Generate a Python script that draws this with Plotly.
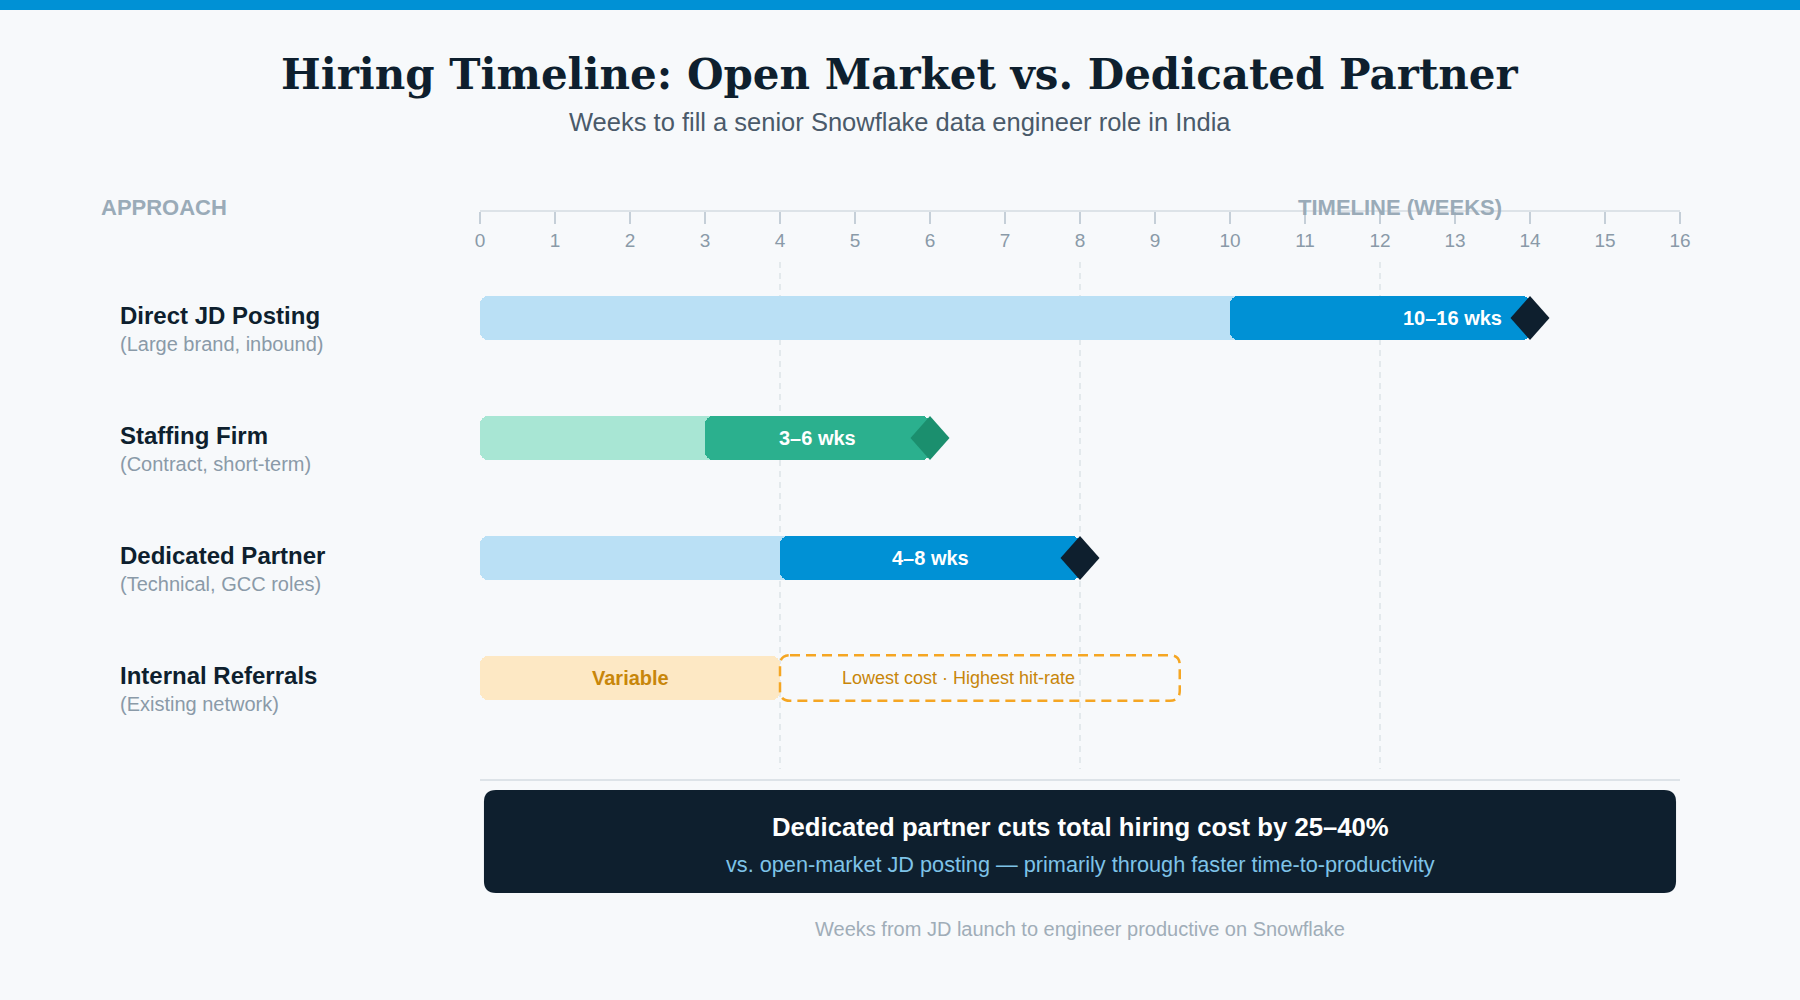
import plotly.graph_objects as go

# ---------------- data ----------------
approaches = ["Direct JD Posting", "Staffing Firm", "Dedicated Partner", "Internal Referrals"]
approach_notes = ["(Large brand, inbound)", "(Contract, short-term)", "(Technical, GCC roles)", "(Existing network)"]
base_end = [14, 6, 8, 4]            # light background bar: 0 -> base_end
range_start = [10, 3, 4, None]      # dark highlighted range
range_end = [14, 6, 8, None]
range_labels = ["10–16 wks", "3–6 wks", "4–8 wks", "Variable"]
note_start, note_end = 4, 9.33
note_text = "Lowest cost · Highest hit-rate"
guide_weeks = [4, 8, 12]
week_ticks = list(range(0, 17))

title = "Hiring Timeline: Open Market vs. Dedicated Partner"
subtitle = "Weeks to fill a senior Snowflake data engineer role in India"
callout_title = "Dedicated partner cuts total hiring cost by 25–40%"
callout_sub = "vs. open-market JD posting — primarily through faster time-to-productivity"
footer = "Weeks from JD launch to engineer productive on Snowflake"

# ---------------- styles ----------------
BG = "#f7f9fb"
NAVY = "#0e1f2e"
BLUE = "#0091d5"
LIGHT_BLUE = "#bae0f5"
light_colors = [LIGHT_BLUE, "#a8e6d4", LIGHT_BLUE, "#fde8c4"]
dark_colors = [BLUE, "#2bb08e", BLUE, None]
diamond_colors = [NAVY, "#1b8f6e", NAVY, None]
label_colors = ["white", "white", "white", "#c8860a"]
label_align = ["right", "center", "center", "center"]
SANS = "Liberation Sans, Arial, sans-serif"
SERIF = "DejaVu Serif, Georgia, serif"
GRAY = "#8a9aa8"
LABEL_GRAY = "#9aabb8"

ROW_PX = 120.0
WEEK_PX = 75.0
BAR_W = 44 / ROW_PX
Y_RANGE = [3.85, -0.9]

rows = list(range(len(approaches)))

fig = go.Figure()

# light bars
fig.add_trace(go.Bar(
    y=rows, x=base_end, base=[0] * len(rows), orientation="h",
    width=BAR_W, marker=dict(color=light_colors, cornerradius=8, line=dict(width=0)),
    hoverinfo="skip", showlegend=False))

# dark range bars
dr = [r for r in rows if range_start[r] is not None]
fig.add_trace(go.Bar(
    y=dr, x=[range_end[r] - range_start[r] for r in dr], base=[range_start[r] for r in dr],
    orientation="h", width=BAR_W,
    marker=dict(color=[dark_colors[r] for r in dr], cornerradius=8, line=dict(width=0)),
    hoverinfo="skip", showlegend=False))

# diamonds at range end
hw = 19.5 / WEEK_PX
hh = 22 / ROW_PX
for r in dr:
    e = range_end[r]
    fig.add_trace(go.Scatter(
        x=[e - hw, e, e + hw, e, e - hw], y=[r, r - hh, r, r + hh, r],
        fill="toself", fillcolor=diamond_colors[r], mode="lines",
        line=dict(width=0, color=diamond_colors[r]), hoverinfo="skip", showlegend=False))

# invisible trace on the axis subplot
fig.add_trace(go.Scatter(x=[0, 16], y=[0, 0], xaxis="x2", yaxis="y2", mode="markers",
                         marker=dict(opacity=0), hoverinfo="skip", showlegend=False))

shapes = []
# top accent bar
shapes.append(dict(type="rect", xref="paper", yref="paper", x0=-0.41, x1=1.11, y0=0.99, y1=1.01,
                   fillcolor=BLUE, line=dict(width=0), layer="below"))
# guides
for w in guide_weeks:
    shapes.append(dict(type="line", xref="x", yref="y", x0=w, x1=w, y0=-0.467, y1=3.758,
                       line=dict(color="#dde3e8", width=1.5, dash="6px,5px"), layer="below"))


def rr_path(x0, x1, y0, y1, rx, ry):
    return (f"M {x0+rx},{y0} L {x1-rx},{y0} Q {x1},{y0} {x1},{y0+ry} "
            f"L {x1},{y1-ry} Q {x1},{y1} {x1-rx},{y1} L {x0+rx},{y1} "
            f"Q {x0},{y1} {x0},{y1-ry} L {x0},{y0+ry} Q {x0},{y0} {x0+rx},{y0} Z")


# dashed note box (internal referrals)
ref_row = 3
shapes.append(dict(type="path", xref="x", yref="y",
                   path=rr_path(note_start, note_end, ref_row - 0.19, ref_row + 0.19, 10 / WEEK_PX, 10 / ROW_PX),
                   line=dict(color="#f5a623", width=2.5, dash="10px,6px"), fillcolor="rgba(0,0,0,0)"))
# separator
shapes.append(dict(type="line", xref="paper", yref="paper", x0=0, x1=1, y0=0.22, y1=0.22,
                   line=dict(color="#dde3e8", width=2)))
# callout box
shapes.append(dict(type="path", xref="paper", yref="paper",
                   path=rr_path(0.0033, 0.9967, 0.107, 0.21, 0.01, 0.012),
                   fillcolor=NAVY, line=dict(width=0)))

ann = []


def add(**kw):
    kw.setdefault("showarrow", False)
    kw.setdefault("xanchor", "center")
    kw.setdefault("yanchor", "middle")
    ann.append(kw)


add(text=f"<b>{title}</b>", xref="paper", yref="paper", x=0.35, y=0.9257,
    font=dict(family=SERIF, size=42, color=NAVY))
add(text=subtitle, xref="paper", yref="paper", x=0.35, y=0.878,
    font=dict(family=SANS, size=25.5, color="#4a5a6a"))
add(text="<b>APPROACH</b>", xref="paper", yref="paper", x=-0.3177, y=0.792,
    xanchor="left", font=dict(family=SANS, size=22, color=LABEL_GRAY))
add(text="<b>TIMELINE (WEEKS)</b>", xref="paper", yref="paper", x=0.767, y=0.792,
    font=dict(family=SANS, size=22, color=LABEL_GRAY))

for r in rows:
    add(text=f"<b>{approaches[r]}</b>", xref="paper", yref="y", x=-0.302, y=r, yshift=3,
        xanchor="left", font=dict(family=SANS, size=24, color=NAVY))
    add(text=approach_notes[r], xref="paper", yref="y", x=-0.302, y=r, yshift=-26,
        xanchor="left", font=dict(family=SANS, size=20, color=GRAY))
    if range_start[r] is not None:
        if label_align[r] == "right":
            add(text=f"<b>{range_labels[r]}</b>", xref="x", yref="y", x=range_end[r], y=r,
                xanchor="right", xshift=-26, font=dict(family=SANS, size=20, color=label_colors[r]))
        else:
            add(text=f"<b>{range_labels[r]}</b>", xref="x", yref="y",
                x=(range_start[r] + range_end[r]) / 2, y=r,
                font=dict(family=SANS, size=20, color=label_colors[r]))
    else:
        add(text=f"<b>{range_labels[r]}</b>", xref="x", yref="y", x=base_end[r] / 2, y=r,
            font=dict(family=SANS, size=20, color=label_colors[r]))

add(text=note_text, xref="x", yref="y", x=note_start, y=ref_row, xanchor="left", xshift=60,
    font=dict(family=SANS, size=18, color="#c8860a"))

add(text=f"<b>{callout_title}</b>", xref="paper", yref="paper", x=0.5, y=0.173,
    font=dict(family=SANS, size=25.7, color="white"))
add(text=callout_sub, xref="paper", yref="paper", x=0.5, y=0.136,
    font=dict(family=SANS, size=21.7, color="#7ec3e8"))
add(text=footer, xref="paper", yref="paper", x=0.5, y=0.071,
    font=dict(family=SANS, size=20, color="#a0adb8"))

fig.update_layout(
    width=1800, height=1000,
    margin=dict(l=480, r=120, t=0, b=0),
    paper_bgcolor=BG, plot_bgcolor=BG,
    barmode="overlay", bargap=0,
    showlegend=False,
    xaxis=dict(range=[0, 16], visible=False, fixedrange=True),
    yaxis=dict(range=Y_RANGE, visible=False, domain=[0.22, 0.79], fixedrange=True),
    xaxis2=dict(range=[0, 16], anchor="y2", side="bottom", tickmode="array", tickvals=week_ticks,
                ticktext=[str(t) for t in week_ticks], ticks="outside", ticklen=12, tickwidth=2,
                tickcolor="#c5cfd8", showline=True, linecolor="#dde3e8", linewidth=2,
                showgrid=False, zeroline=False, tickfont=dict(family=SANS, size=19, color=GRAY),
                fixedrange=True),
    yaxis2=dict(domain=[0.79, 0.8], visible=False, range=[0, 1], fixedrange=True),
    shapes=shapes, annotations=ann,
)

fig.write_html("out.html")
